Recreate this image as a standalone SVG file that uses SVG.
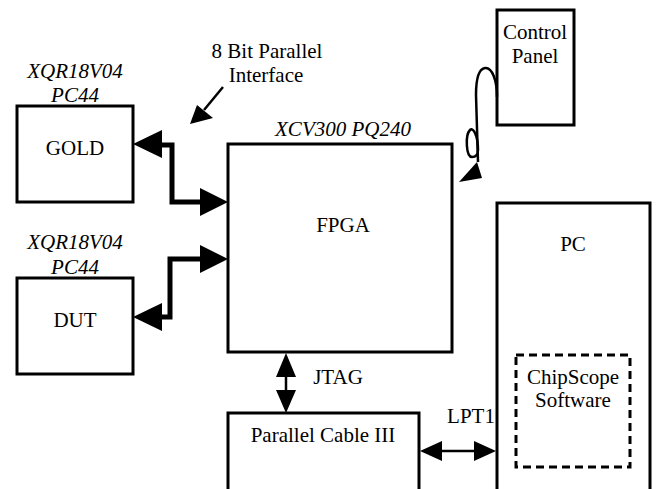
<svg xmlns="http://www.w3.org/2000/svg" width="657" height="489" viewBox="0 0 657 489">
<style>
.box{fill:#fff;stroke:#000;stroke-width:3}
text{font-family:"Liberation Serif","Times New Roman",serif;font-size:21px;fill:#000;text-anchor:middle}
.i{font-style:italic}
.bus{fill:none;stroke:#000;stroke-width:5;stroke-linejoin:miter}
.thin{fill:none;stroke:#000;stroke-width:2.5}
.head{fill:#000;stroke:none}
</style>
<rect width="657" height="489" fill="#fff"/>
<g id="gold">
<rect class="box" x="17" y="106" width="116" height="96"/>
<text x="75" y="155">GOLD</text>
<text class="i" x="75" y="78">XQR18V04</text>
<text class="i" x="75" y="102">PC44</text>
</g>
<g id="dut">
<rect class="box" x="17" y="278" width="116" height="96"/>
<text x="75" y="327">DUT</text>
<text class="i" x="75" y="249">XQR18V04</text>
<text class="i" x="75" y="274">PC44</text>
</g>
<g id="fpga">
<rect class="box" x="228" y="144" width="224" height="208"/>
<text x="343" y="232">FPGA</text>
<text class="i" x="343" y="136">XCV300 PQ240</text>
</g>
<g id="control">
<rect class="box" x="497" y="10" width="77" height="115"/>
<text x="535" y="39">Control</text>
<text x="535" y="63">Panel</text>
</g>
<g id="pc">
<rect class="box" x="497" y="203" width="153" height="290"/>
<text x="573" y="251">PC</text>
</g>
<g id="chipscope">
<rect x="516" y="355" width="114" height="112" fill="none" stroke="#000" stroke-width="3" stroke-dasharray="8,5"/>
<text x="573" y="384">ChipScope</text>
<text x="573" y="407">Software</text>
</g>
<g id="cable">
<rect class="box" x="228" y="413" width="191" height="80"/>
<text x="323" y="442">Parallel Cable III</text>
</g>
<g id="labels">
<text x="267" y="58">8 Bit Parallel</text>
<text x="266" y="82">Interface</text>
<text x="338" y="384">JTAG</text>
<text x="471" y="423">LPT1</text>
</g>
<g id="connectors">
<path class="bus" d="M160,145 H172 V202 H202"/>
<polygon class="head" points="133,144 162,130 162,158"/>
<polygon class="head" points="228,202 200,188 200,216"/>
<path class="bus" d="M160,317 H170 V259 H202"/>
<polygon class="head" points="133,317 162,303 162,331"/>
<polygon class="head" points="228,259 200,245 200,273"/>
<line class="thin" x1="223" y1="87" x2="204" y2="110"/>
<polygon class="head" points="190,124 197,105 213,118"/>
<line class="thin" x1="286" y1="375" x2="286" y2="392"/>
<polygon class="head" points="286,353 276,377 296,377"/>
<polygon class="head" points="286,413 276,390 296,390"/>
<line class="thin" x1="440" y1="451" x2="476" y2="451"/>
<polygon class="head" points="420,451 442,441 442,461"/>
<polygon class="head" points="496,451 474,441 474,461"/>
<path class="thin" d="M497,97 C497,80 492,67 485,68 C478,69 476,80 476,95 L478,162"/>
<path class="thin" d="M478,150 C478,135 473,127 470,130 C465,135 466,157 472,157 C476,157 478,155 478,150"/>
<polygon class="head" points="477,162 459,182 482,178"/>
</g>
</svg>
